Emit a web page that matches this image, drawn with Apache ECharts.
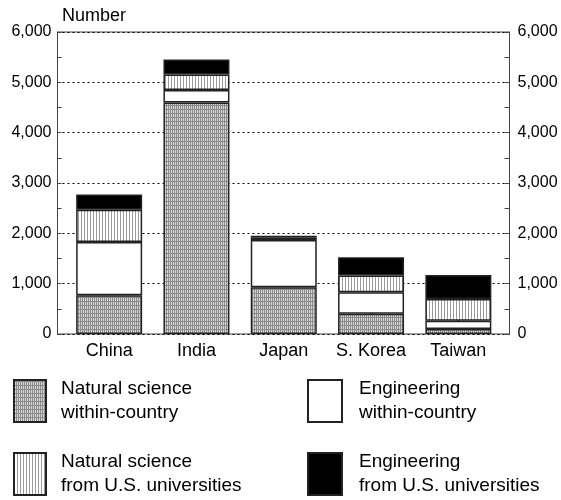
<!DOCTYPE html>
<html>
<head>
<meta charset="utf-8">
<script src="https://cdn.jsdelivr.net/npm/echarts@6/dist/echarts.min.js"></script>
<style>
  html, body { margin: 0; padding: 0; background: #fff; }
  #main { width: 561px; height: 500px; }
</style>
</head>
<body>
<div id="main"></div>
<script>
  // data
  const categories = ['China', 'India', 'Japan', 'S. Korea', 'Taiwan']
  const nsWithin = [770, 4600, 930, 400, 100]
  const engWithin = [1060, 250, 940, 430, 165]
  const nsUS = [640, 305, 50, 330, 430]
  const engUS = [300, 300, 30, 365, 475]
  const stubs = [540, 540, 540, 540, 540] // short center lines inside each bar
  const yTicks = [0, 1000, 2000, 3000, 4000, 5000, 6000]

  const FONT = '"Liberation Sans", Arial, sans-serif'

  // small canvas patterns for the hatched fills
  const makePattern = (w, h, draw) => {
    const c = document.createElement('canvas')
    c.width = w
    c.height = h
    const ctx = c.getContext('2d')
    draw(ctx)
    return { image: c, repeat: 'repeat' }
  }
  const dottedFill = makePattern(2, 4, ctx => {
    ctx.fillStyle = '#d8d8d8'
    ctx.fillRect(0, 0, 2, 4)
    ctx.fillStyle = '#8a8a8a'
    ctx.fillRect(0, 0, 1, 4)
    ctx.fillRect(1, 1, 1, 1)
  })
  const stripeFill = makePattern(3, 3, ctx => {
    ctx.fillStyle = '#ffffff'
    ctx.fillRect(0, 0, 3, 3)
    ctx.fillStyle = '#9a9a9a'
    ctx.fillRect(0, 0, 1, 3)
  })

  const barBase = {
    type: 'bar',
    stack: 'total',
    xAxisIndex: 1,
    yAxisIndex: 2,
    barWidth: 66,
    emphasis: { disabled: true }
  }
  const edge = { borderColor: '#222', borderWidth: 1.5 }
  const splitName = name => name.replace(' within', '\nwithin').replace(' from', '\nfrom')

  const chart = echarts.init(document.getElementById('main'), null, { renderer: 'canvas' })
  const option = {
    animation: false,
    backgroundColor: '#fff',
    textStyle: { fontFamily: FONT },
    title: {
      text: 'Number',
      left: 57,
      top: 2,
      textStyle: { fontFamily: FONT, fontSize: 18, fontWeight: 'normal', color: '#000' }
    },
    grid: [
      // frame
      { left: 57.5, right: 51.5, top: 32, bottom: 166, show: true, borderColor: '#444', borderWidth: 1 },
      // bars sit a little inset from the frame
      { left: 65.5, right: 59, top: 32, bottom: 166 }
    ],
    xAxis: [
      { gridIndex: 0, type: 'value', show: false, min: 0, max: 1 },
      {
        gridIndex: 1,
        type: 'category',
        data: categories,
        axisLine: { show: false },
        axisTick: { show: false },
        axisLabel: { color: '#000', fontSize: 18, fontFamily: FONT, margin: 8, interval: 0 }
      }
    ],
    yAxis: [
      {
        gridIndex: 0,
        position: 'left',
        min: yTicks[0],
        max: yTicks[yTicks.length - 1],
        interval: 1000,
        axisLine: { show: true, lineStyle: { color: '#444' } },
        axisTick: { show: true, inside: true, length: 4, lineStyle: { color: '#444' } },
        minorTick: { show: true, splitNumber: 2, length: 4, lineStyle: { color: '#444' } },
        axisLabel: { color: '#000', fontSize: 16, fontFamily: FONT, margin: 6 },
        splitLine: { show: true, lineStyle: { color: '#000', type: [2, 3], width: 1 } }
      },
      {
        gridIndex: 0,
        position: 'right',
        min: yTicks[0],
        max: yTicks[yTicks.length - 1],
        interval: 1000,
        axisLine: { show: true, lineStyle: { color: '#444' } },
        axisTick: { show: true, inside: true, length: 5, lineStyle: { color: '#444' } },
        minorTick: { show: true, splitNumber: 2, length: 5, lineStyle: { color: '#444' } },
        axisLabel: { color: '#000', fontSize: 16, fontFamily: FONT, margin: 8 },
        splitLine: { show: false }
      },
      { gridIndex: 1, min: 0, max: 6000, show: false }
    ],
    legend: [
      {
        left: 13,
        top: 377,
        height: 123,
        padding: 0,
        orient: 'vertical',
        icon: 'rect',
        itemWidth: 32,
        itemHeight: 42,
        itemGap: 25,
        selectedMode: false,
        data: ['Natural science within-country', 'Natural science from U.S. universities'],
        formatter: splitName,
        textStyle: { fontFamily: FONT, fontSize: 19, lineHeight: 24, color: '#000', padding: [0, 0, 0, 10] }
      },
      {
        left: 307,
        top: 377,
        height: 123,
        padding: 0,
        orient: 'vertical',
        icon: 'rect',
        itemWidth: 34,
        itemHeight: 42,
        itemGap: 25,
        selectedMode: false,
        data: ['Engineering within-country', 'Engineering from U.S. universities'],
        formatter: splitName,
        textStyle: { fontFamily: FONT, fontSize: 19, lineHeight: 24, color: '#000', padding: [0, 0, 0, 12] }
      }
    ],
    series: [
      Object.assign({}, barBase, {
        name: 'Natural science within-country',
        data: nsWithin,
        itemStyle: Object.assign({ color: dottedFill }, edge)
      }),
      Object.assign({}, barBase, {
        name: 'Engineering within-country',
        data: engWithin,
        itemStyle: Object.assign({ color: '#fff' }, edge)
      }),
      Object.assign({}, barBase, {
        name: 'Natural science from U.S. universities',
        data: nsUS,
        itemStyle: Object.assign({ color: stripeFill }, edge)
      }),
      Object.assign({}, barBase, {
        name: 'Engineering from U.S. universities',
        data: engUS,
        itemStyle: Object.assign({ color: '#000' }, edge)
      }),
      {
        type: 'custom',
        name: 'stub',
        xAxisIndex: 1,
        yAxisIndex: 2,
        silent: true,
        data: stubs.map((v, i) => [i, v]),
        renderItem: (params, api) => {
          const p0 = api.coord([api.value(0), 0])
          const p1 = api.coord([api.value(0), api.value(1)])
          return {
            type: 'line',
            shape: { x1: p0[0], y1: p0[1], x2: p1[0], y2: p1[1] },
            style: { stroke: '#222', lineWidth: 1.5 }
          }
        }
      }
    ]
  }
  chart.setOption(option)
</script>
</body>
</html>
